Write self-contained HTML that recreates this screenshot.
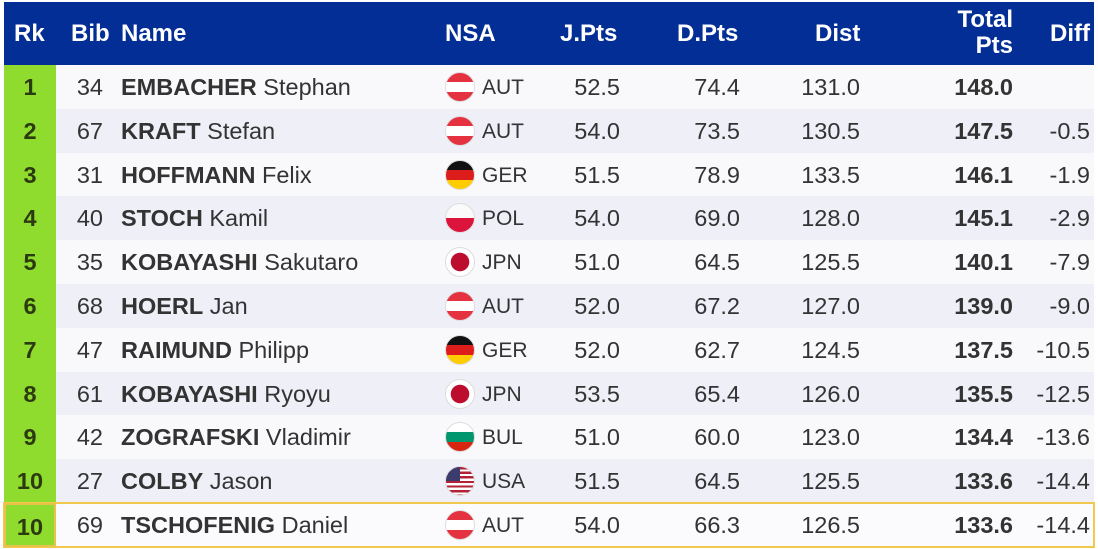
<!DOCTYPE html>
<html><head><meta charset="utf-8"><style>
*{margin:0;padding:0;box-sizing:border-box}
body{width:1098px;height:549px;background:#fff;font-family:"Liberation Sans",Arial,sans-serif;position:relative;overflow:hidden;color:#333}
.hd{position:absolute;left:4px;top:2px;width:1090px;height:63px;background:#032e96;color:#fff;font-weight:bold;font-size:24px}
.hd span{position:absolute;top:18px}
.r{position:absolute;left:4px;width:1090px;height:44px;font-size:23.5px}
.r span{position:absolute;top:9px}
.rk{left:0;width:52px;height:44px;background:#8fdc2e;top:0!important;text-align:center;line-height:44px;font-weight:bold;color:#2c3a10}
.bib{right:991px;text-align:right}
.nm{left:117px}
.nm b{color:#333}
.fl{position:absolute;left:441px;top:7px;width:30px;height:30px;border-radius:50%;overflow:hidden;border:1.5px solid #ddd}
.ns{left:478px;top:11px!important;font-size:21px}
.j{right:474px;text-align:right}
.d{right:354px;text-align:right}
.ds{right:234px;text-align:right}
.t{right:81px;text-align:right;font-weight:bold}
.df{right:4px;text-align:right}
.aut{background:linear-gradient(#e53240 0 33%,#fff 33% 67%,#e53240 67%)}
.ger{background:linear-gradient(#111 0 33%,#dd1c1c 33% 67%,#fc0 67%)}
.pol{background:linear-gradient(#fafafa 0 50%,#dc143c 50%)}
.jpn{background:radial-gradient(circle,#bc0d2e 0 9px,#fff 9.5px)}
.bul{background:linear-gradient(#fff 0 33%,#00966e 33% 67%,#d62612 67%)}
.usa{background:repeating-linear-gradient(#b22234 0 2.3px,#fff 2.3px 4.6px)}
.usa i{position:absolute;left:0;top:0;width:14px;height:14px;background:#3c3b6e}
</style></head><body>
<div class="hd"><span style="left:10px">Rk</span><span style="left:67px">Bib</span><span style="left:117px">Name</span><span style="left:441px">NSA</span><span style="left:556px">J.Pts</span><span style="left:673px">D.Pts</span><span style="left:811px">Dist</span><span style="right:81px;top:5px;text-align:right;line-height:26px">Total<br>Pts</span><span style="left:1046px">Diff</span></div>

<div class="r" style="top:65px;background:#f9f9fb"><span class="rk">1</span><span class="bib">34</span><span class="nm"><b>EMBACHER</b> Stephan</span><div class="fl aut"></div><span class="ns">AUT</span><span class="j">52.5</span><span class="d">74.4</span><span class="ds">131.0</span><span class="t">148.0</span><span class="df"></span></div>
<div class="r" style="top:108.8px;background:#eeeff7"><span class="rk">2</span><span class="bib">67</span><span class="nm"><b>KRAFT</b> Stefan</span><div class="fl aut"></div><span class="ns">AUT</span><span class="j">54.0</span><span class="d">73.5</span><span class="ds">130.5</span><span class="t">147.5</span><span class="df">-0.5</span></div>
<div class="r" style="top:152.6px;background:#f9f9fb"><span class="rk">3</span><span class="bib">31</span><span class="nm"><b>HOFFMANN</b> Felix</span><div class="fl ger"></div><span class="ns">GER</span><span class="j">51.5</span><span class="d">78.9</span><span class="ds">133.5</span><span class="t">146.1</span><span class="df">-1.9</span></div>
<div class="r" style="top:196.4px;background:#eeeff7"><span class="rk">4</span><span class="bib">40</span><span class="nm"><b>STOCH</b> Kamil</span><div class="fl pol"></div><span class="ns">POL</span><span class="j">54.0</span><span class="d">69.0</span><span class="ds">128.0</span><span class="t">145.1</span><span class="df">-2.9</span></div>
<div class="r" style="top:240.2px;background:#f9f9fb"><span class="rk">5</span><span class="bib">35</span><span class="nm"><b>KOBAYASHI</b> Sakutaro</span><div class="fl jpn"></div><span class="ns">JPN</span><span class="j">51.0</span><span class="d">64.5</span><span class="ds">125.5</span><span class="t">140.1</span><span class="df">-7.9</span></div>
<div class="r" style="top:284px;background:#eeeff7"><span class="rk">6</span><span class="bib">68</span><span class="nm"><b>HOERL</b> Jan</span><div class="fl aut"></div><span class="ns">AUT</span><span class="j">52.0</span><span class="d">67.2</span><span class="ds">127.0</span><span class="t">139.0</span><span class="df">-9.0</span></div>
<div class="r" style="top:327.8px;background:#f9f9fb"><span class="rk">7</span><span class="bib">47</span><span class="nm"><b>RAIMUND</b> Philipp</span><div class="fl ger"></div><span class="ns">GER</span><span class="j">52.0</span><span class="d">62.7</span><span class="ds">124.5</span><span class="t">137.5</span><span class="df">-10.5</span></div>
<div class="r" style="top:371.6px;background:#eeeff7"><span class="rk">8</span><span class="bib">61</span><span class="nm"><b>KOBAYASHI</b> Ryoyu</span><div class="fl jpn"></div><span class="ns">JPN</span><span class="j">53.5</span><span class="d">65.4</span><span class="ds">126.0</span><span class="t">135.5</span><span class="df">-12.5</span></div>
<div class="r" style="top:415.4px;background:#f9f9fb"><span class="rk">9</span><span class="bib">42</span><span class="nm"><b>ZOGRAFSKI</b> Vladimir</span><div class="fl bul"></div><span class="ns">BUL</span><span class="j">51.0</span><span class="d">60.0</span><span class="ds">123.0</span><span class="t">134.4</span><span class="df">-13.6</span></div>
<div class="r" style="top:459.2px;background:#eeeff7"><span class="rk">10</span><span class="bib">27</span><span class="nm"><b>COLBY</b> Jason</span><div class="fl usa"><i></i></div><span class="ns">USA</span><span class="j">51.5</span><span class="d">64.5</span><span class="ds">125.5</span><span class="t">133.6</span><span class="df">-14.4</span></div>
<div class="r" style="top:503px;background:#fbfbfd;outline:2px solid #f2c94c;outline-offset:-1px"><span class="rk" style="border:2px solid #e8c24a">10</span><span class="bib">69</span><span class="nm"><b>TSCHOFENIG</b> Daniel</span><div class="fl aut"></div><span class="ns">AUT</span><span class="j">54.0</span><span class="d">66.3</span><span class="ds">126.5</span><span class="t">133.6</span><span class="df">-14.4</span></div>
</body></html>
